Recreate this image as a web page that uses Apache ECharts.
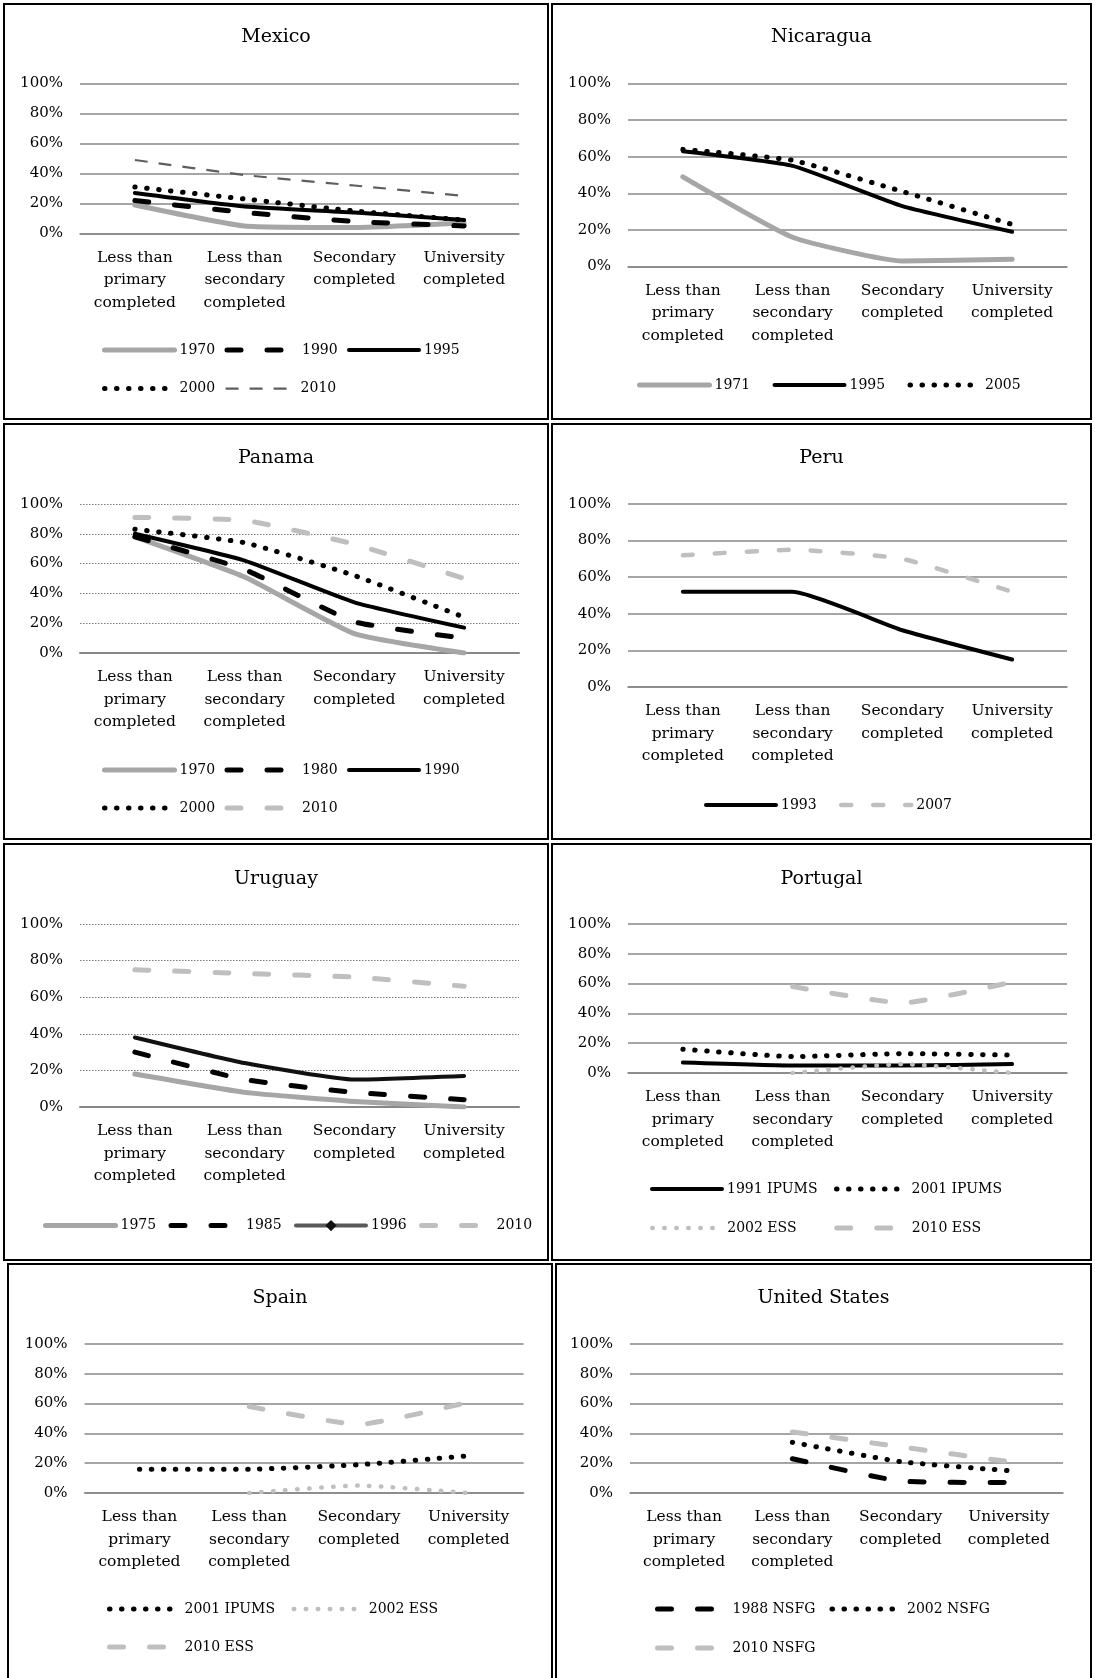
<!DOCTYPE html>
<html>
<head>
<meta charset="utf-8">
<script src="https://cdn.jsdelivr.net/npm/echarts@6/dist/echarts.min.js"></script>
<style>
  html, body { margin: 0; padding: 0; background: #fff; }
  body { width: 1095px; height: 1678px; position: relative; overflow: hidden; }
  .panel { position: absolute; box-sizing: border-box; border: 2px solid #000; background: #fff; }
  .panel > div { width: 100%; height: 100%; }
</style>
</head>
<body>
<script>
// Education categories shared by every country panel
const categories = [
  'Less than primary completed',
  'Less than secondary completed',
  'Secondary completed',
  'University completed'
];
const yTicks = [0, 20, 40, 60, 80, 100];

// Share (%) by educational attainment, one row per census / survey
const mexicoSeries = ['1970', '1990', '1995', '2000', '2010'];
const mexicoValues = [
  [19, 5, 4, 7],
  [22, 14, 8, 5],
  [27, 18, 14, 9],
  [31, 23, 15, 9],
  [49, 39, 32, 25]
];

const nicaraguaSeries = ['1971', '1995', '2005'];
const nicaraguaValues = [
  [49, 16, 3, 4],
  [63, 55, 33, 19],
  [64, 58, 41, 23]
];

const panamaSeries = ['1970', '1980', '1990', '2000', '2010'];
const panamaValues = [
  [78, 51, 13, 0],
  [78, 56, 21, 10],
  [80, 62, 34, 17],
  [83, 74, 52, 24],
  [91, 89, 73, 50]
];

const peruSeries = ['1993', '2007'];
const peruValues = [
  [52, 52, 31, 15],
  [72, 75, 70, 52]
];

const uruguaySeries = ['1975', '1985', '1996', '2010'];
const uruguayValues = [
  [18, 8, 3, 0],
  [30, 15, 8, 4],
  [38, 24, 15, 17],
  [75, 73, 71, 66]
];

const portugalSeries = ['1991 IPUMS', '2001 IPUMS', '2002 ESS', '2010 ESS'];
const portugalValues = [
  [7, 5, 5, 6],
  [16, 11, 13, 12],
  [null, 0, 6, 0],
  [null, 58, 47, 61]
];

const spainSeries = ['2001 IPUMS', '2002 ESS', '2010 ESS'];
const spainValues = [
  [16, 16, 19, 25],
  [null, 0, 5, 0],
  [null, 58, 46, 61]
];

const usSeries = ['1988 NSFG', '2002 NSFG', '2010 NSFG'];
const usValues = [
  [null, 23, 8, 7],
  [null, 34, 21, 15],
  [null, 41, 31, 21]
];

// ---- presentation -------------------------------------------------------
const FONT = '"DejaVu Serif", "Liberation Serif", serif';

const LINE_STYLES = {
  gray:          { color: '#a6a6a6', width: 5,   type: 'solid', cap: 'round' },
  black:         { color: '#000000', width: 4,   type: 'solid', cap: 'round' },
  blackDash:     { color: '#000000', width: 5,   type: [14, 26], cap: 'round' },
  blackDot:      { color: '#000000', width: 5,   type: [0.5, 11.5], cap: 'round' },
  grayDash:      { color: '#bfbfbf', width: 5,   type: [14, 26], cap: 'round' },
  grayShortDash: { color: '#bfbfbf', width: 4.5, type: [10, 22], cap: 'round' },
  grayDot:       { color: '#bfbfbf', width: 4.5, type: [0.5, 11.5], cap: 'round' },
  thinDash:      { color: '#5f5f5f', width: 2.2, type: [13, 11], cap: 'butt' },
  blackDiamond:  { color: '#111111', width: 4,   type: 'solid', cap: 'round', symbol: 'diamond', legendColor: '#595959' }
};

const panels = [
  { title: 'Mexico', names: mexicoSeries, values: mexicoValues,
    styles: ['gray', 'blackDash', 'black', 'blackDot', 'thinDash'],
    box: [3, 3, 546, 417], grid: [75, 78.5, 439, 150], titleY: 32.5, dotted: false,
    legend: { rows: [[0, 1, 2], [3, 4]], tops: [335, 373.6], left: 97, textW: 36, gap: 9 } },
  { title: 'Nicaragua', names: nicaraguaSeries, values: nicaraguaValues,
    styles: ['gray', 'black', 'blackDot'],
    box: [551, 3, 541, 417], grid: [75, 78.5, 439, 183], titleY: 32.5, dotted: false,
    legend: { rows: [[0, 1, 2]], tops: [370], left: 84, textW: 36, gap: 22 } },
  { title: 'Panama', names: panamaSeries, values: panamaValues,
    styles: ['gray', 'blackDash', 'black', 'blackDot', 'grayDash'],
    box: [3, 423, 546, 417], grid: [75, 79, 439, 149], titleY: 33, dotted: true,
    legend: { rows: [[0, 1, 2], [3, 4]], tops: [335, 373], left: 97, textW: 36, gap: 9 } },
  { title: 'Peru', names: peruSeries, values: peruValues,
    styles: ['black', 'grayShortDash'],
    box: [551, 423, 541, 417], grid: [75, 79, 439, 183], titleY: 33, dotted: false,
    legend: { rows: [[0, 1]], tops: [370], left: 151, textW: 36, gap: 22 } },
  { title: 'Uruguay', names: uruguaySeries, values: uruguayValues,
    styles: ['gray', 'blackDash', 'blackDiamond', 'grayDash'],
    box: [3, 843, 546, 418], grid: [75, 79, 439, 183], titleY: 34, dotted: true,
    legend: { rows: [[0, 1, 2, 3]], tops: [370.6], left: 38, textW: 36, gap: 12 } },
  { title: 'Portugal', names: portugalSeries, values: portugalValues,
    styles: ['black', 'blackDot', 'grayDot', 'grayDash'],
    box: [551, 843, 541, 418], grid: [75, 79, 439, 149], titleY: 34, dotted: false,
    legend: { rows: [[0, 1], [2, 3]], tops: [334, 373], left: 97, textW: 92, gap: 15 } },
  { title: 'Spain', names: spainSeries, values: spainValues,
    styles: ['blackDot', 'grayDot', 'grayDash'],
    box: [7, 1263, 546, 420], grid: [75.6, 79, 439, 149], titleY: 33, dotted: false,
    legend: { rows: [[0, 1], [2]], tops: [334, 372], left: 98, textW: 92, gap: 15 } },
  { title: 'United States', names: usSeries, values: usValues,
    styles: ['blackDash', 'blackDot', 'grayDash'],
    box: [555, 1263, 537, 420], grid: [73, 79, 433, 149], titleY: 33, dotted: false,
    legend: { rows: [[0, 1], [2]], tops: [334, 373], left: 98, textW: 88, gap: 9 } }
];

function wrapCategory(label) {
  return label.replace('Less than ', 'Less than\n').replace(' completed', '\ncompleted');
}

function lineStyleOf(s, color) {
  return { color: color || s.color, width: s.width, type: s.type, cap: s.cap, join: 'round' };
}

function buildOption(p) {
  const series = p.names.map(function (name, i) {
    const s = LINE_STYLES[p.styles[i]];
    return {
      name: name,
      type: 'line',
      data: p.values[i],
      smooth: 0.15,
      symbol: s.symbol || 'circle',
      showSymbol: false,
      connectNulls: false,
      itemStyle: { color: s.color },
      lineStyle: lineStyleOf(s),
      emphasis: { disabled: true },
      silent: true
    };
  });

  const legends = p.legend.rows.map(function (row, r) {
    return {
      data: row.map(function (idx) {
        const s = LINE_STYLES[p.styles[idx]];
        return {
          name: p.names[idx],
          itemStyle: { opacity: s.symbol ? 1 : 0, color: s.color },
          lineStyle: lineStyleOf(s, s.legendColor)
        };
      }),
      top: p.legend.tops[r],
      left: p.legend.left,
      orient: 'horizontal',
      padding: 0,
      itemWidth: 70,
      itemHeight: 14,
      itemGap: p.legend.gap,
      selectedMode: false,
      textStyle: {
        fontFamily: FONT, fontSize: 14, color: '#000',
        width: p.legend.textW, lineHeight: 20, overflow: 'none'
      }
    };
  });

  const gridColor = '#878787';
  return {
    animation: false,
    backgroundColor: '#fff',
    title: {
      text: p.title,
      left: 'center',
      top: p.titleY - 12,
      padding: 0,
      textStyle: { fontFamily: FONT, fontSize: 19, fontWeight: 'normal', color: '#000', lineHeight: 24 }
    },
    legend: legends,
    grid: { left: p.grid[0], top: p.grid[1], width: p.grid[2], height: p.grid[3], containLabel: false },
    xAxis: {
      type: 'category',
      data: categories,
      boundaryGap: true,
      axisTick: { show: false },
      axisLine: { show: true, lineStyle: { color: gridColor, width: p.dotted ? 2 : 1.5 } },
      splitLine: { show: false },
      axisLabel: {
        interval: 0, margin: 13, formatter: wrapCategory,
        fontFamily: FONT, fontSize: 15.5, lineHeight: 22.5, color: '#000', align: 'center'
      }
    },
    yAxis: {
      type: 'value',
      min: yTicks[0],
      max: yTicks[yTicks.length - 1],
      interval: yTicks[1] - yTicks[0],
      axisLine: { show: false },
      axisTick: { show: false },
      axisLabel: {
        margin: 17, formatter: '{value}%',
        fontFamily: FONT, fontSize: 15, color: '#000'
      },
      splitLine: {
        show: true,
        lineStyle: p.dotted
          ? { color: '#7a7a7a', width: 1, type: [1.5, 1.5] }
          : { color: gridColor, width: 1.5, type: 'solid' }
      }
    },
    series: series
  };
}

panels.forEach(function (p) {
  const box = document.createElement('div');
  box.className = 'panel';
  box.style.left = p.box[0] + 'px';
  box.style.top = p.box[1] + 'px';
  box.style.width = p.box[2] + 'px';
  box.style.height = p.box[3] + 'px';
  const inner = document.createElement('div');
  box.appendChild(inner);
  document.body.appendChild(box);
  const chart = echarts.init(inner, null, { renderer: 'canvas' });
  chart.setOption(buildOption(p));
});
</script>
</body>
</html>
